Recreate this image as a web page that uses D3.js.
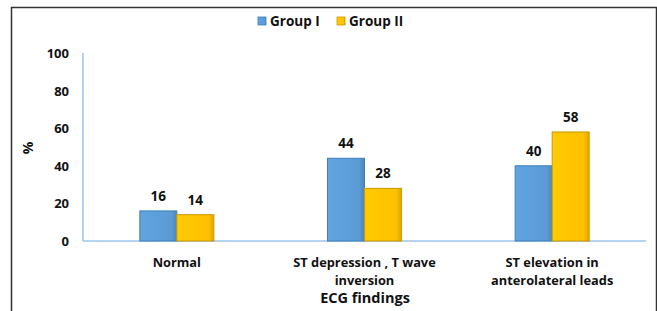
<!DOCTYPE html>
<html>
<head>
<meta charset="utf-8">
<script src="https://cdn.jsdelivr.net/npm/d3@7"></script>
<style>
  body { margin: 0; background: #fff; }
  text { font-family: "Open Sans", "Liberation Sans", sans-serif; font-weight: bold; fill: #111; }
</style>
</head>
<body>
<svg id="chart" width="657" height="311"></svg>
<script>
var categories = [["Normal"], ["ST depression , T wave", "inversion"], ["ST elevation in", "anterolateral leads"]];
var seriesNames = ["Group I", "Group II"];
var groupI = [16, 44, 40];
var groupII = [14, 28, 58];
var yTicks = [0, 20, 40, 60, 80, 100];
var colors = ["#5b9bd5", "#ffc000"];
var edges = ["#3f7fba", "#c99700"];

var svg = d3.select("#chart");

// soft bevel on the bars
var defs = svg.append("defs");
colors.forEach((c, j) => {
    var g = defs.append("linearGradient").attr("id", "grad" + j);
    g.append("stop").attr("offset", "0%").attr("stop-color", d3.color(c).brighter(0.15));
    g.append("stop").attr("offset", "85%").attr("stop-color", c);
    g.append("stop").attr("offset", "100%").attr("stop-color", d3.color(c).darker(0.4));
});

// frame
svg.append("path").attr("d", "M11.5,311 V7.5 H656.5 V311")
    .attr("fill", "none").attr("stroke", "#333").attr("stroke-width", 1.5);

var x0 = 83, x1 = 646, yBase = 241, yTop = 53;
var x = d3.scaleBand().domain(d3.range(categories.length)).range([x0, x1]);
var y = d3.scaleLinear().domain([0, 100]).range([yBase, yTop]);
var xs = d3.scaleBand().domain(d3.range(seriesNames.length)).range([0, 74]);

// axes
svg.append("line").attr("x1", x0).attr("x2", x0).attr("y1", yTop).attr("y2", yBase)
    .attr("stroke", "#9cc3ea").attr("stroke-width", 1.5);
svg.append("line").attr("x1", x0).attr("x2", x1).attr("y1", yBase).attr("y2", yBase)
    .attr("stroke", "#9cc3ea").attr("stroke-width", 1.5);

svg.selectAll("text.ytick").data(yTicks).enter().append("text")
    .attr("class", "ytick")
    .attr("x", 69).attr("y", (d) => y(d) + 5)
    .attr("text-anchor", "end").attr("font-size", 13)
    .text((d) => d);

svg.append("text").attr("transform", "translate(33,148) rotate(-90)")
    .attr("text-anchor", "middle").attr("font-size", 14).text("%");

// bars
var data = categories.map((c, i) => ({ i: i, v: [groupI[i], groupII[i]] }));
var groups = svg.selectAll("g.cat").data(data).enter().append("g")
    .attr("class", "cat")
    .attr("transform", (d) => "translate(" + (x(d.i) + x.bandwidth() / 2 - 37) + ",0)");

groups.selectAll("rect").data((d) => d.v).enter().append("rect")
    .attr("x", (d, j) => xs(j))
    .attr("y", (d) => y(d))
    .attr("width", xs.bandwidth())
    .attr("height", (d) => y(0) - y(d))
    .attr("fill", (d, j) => "url(#grad" + j + ")")
    .attr("stroke", (d, j) => edges[j]).attr("stroke-width", 1);

groups.selectAll("text.val").data((d) => d.v).enter().append("text")
    .attr("class", "val")
    .attr("x", (d, j) => xs(j) + xs.bandwidth() / 2)
    .attr("y", (d) => y(d) - 10)
    .attr("text-anchor", "middle").attr("font-size", 13.5)
    .text((d) => d);

// category labels, one text per line
categories.forEach((lines, i) => {
    lines.forEach((l, k) => svg.append("text")
        .attr("x", x(i) + x.bandwidth() / 2).attr("y", 267 + k * 17.5)
        .attr("text-anchor", "middle").attr("font-size", 12.8).text(l));
});

svg.append("text").attr("x", 365).attr("y", 303).attr("text-anchor", "middle")
    .attr("font-size", 14.5).text("ECG findings");

// legend
var legX = [258, 337];
seriesNames.forEach((s, j) => {
    svg.append("rect").attr("x", legX[j]).attr("y", 17).attr("width", 8).attr("height", 8)
        .attr("fill", "url(#grad" + j + ")").attr("stroke", edges[j]).attr("stroke-width", 0.8);
    svg.append("text").attr("x", legX[j] + 12).attr("y", 26).attr("font-size", 13.5).text(s);
});
</script>
</body>
</html>
